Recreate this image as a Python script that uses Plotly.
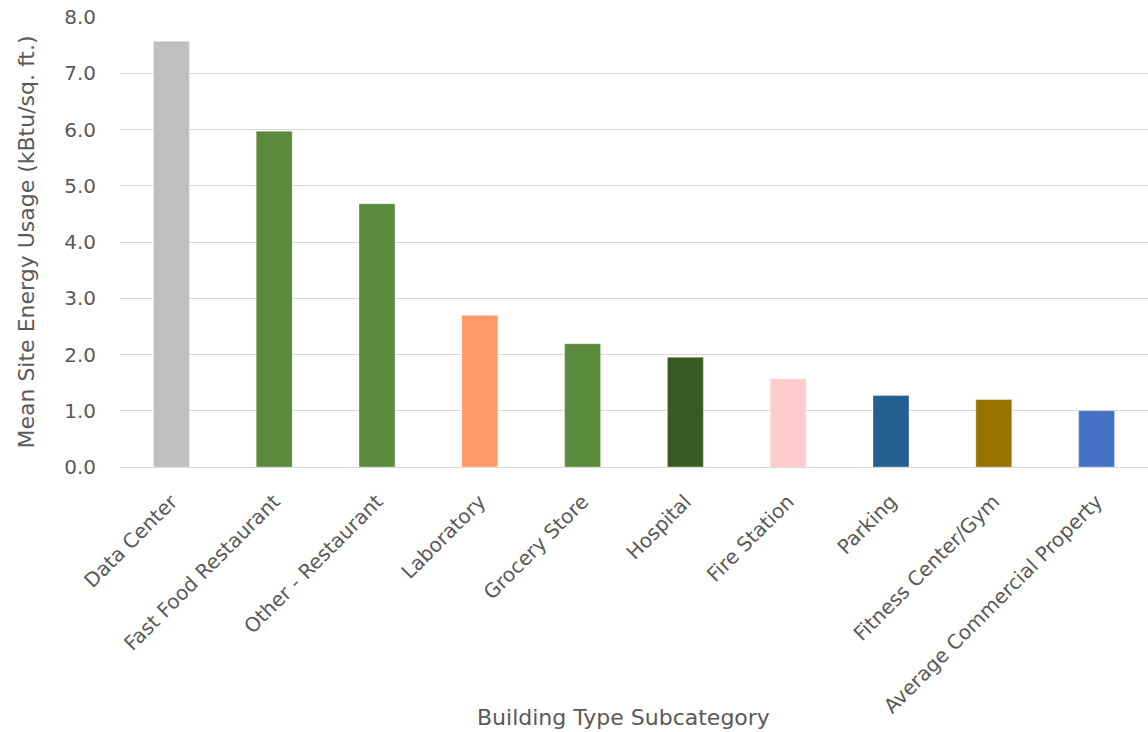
import plotly.graph_objects as go

categories = ["Data Center", "Fast Food Restaurant", "Other - Restaurant", "Laboratory",
              "Grocery Store", "Hospital", "Fire Station", "Parking",
              "Fitness Center/Gym", "Average Commercial Property"]
values = [7.57, 5.97, 4.68, 2.70, 2.19, 1.95, 1.57, 1.27, 1.20, 1.00]
colors = ["#BFBFBF", "#5B8A3C", "#5B8A3C", "#FF9966", "#5B8A3C", "#3A5A24",
          "#FFCCCC", "#255E91", "#997300", "#4472C4"]
y_ticks = [0, 1, 2, 3, 4, 5, 6, 7, 8]
y_ticklabels = ["0.0", "1.0", "2.0", "3.0", "4.0", "5.0", "6.0", "7.0", "8.0"]

font_family = "DejaVu Sans, Open Sans, sans-serif"
gray = "#595959"

fig = go.Figure(go.Bar(
    x=categories, y=values,
    marker=dict(color=colors, line=dict(color="rgba(255,255,255,0.35)", width=1)),
    hoverinfo="x+y",
))

fig.update_layout(
    width=1148, height=732,
    margin=dict(l=120, r=0, t=17, b=265),
    paper_bgcolor="white", plot_bgcolor="white",
    bargap=0.65,
    showlegend=False,
    font=dict(family=font_family, color=gray, size=18),
)
fig.update_yaxes(
    range=[0, 8], tickvals=y_ticks, ticktext=y_ticklabels,
    showgrid=True, gridcolor="#D9D9D9", gridwidth=1,
    zeroline=True, zerolinecolor="#D9D9D9", zerolinewidth=1,
    showline=False, ticks="", ticklabelstandoff=23,
    tickfont=dict(size=20, color=gray),
    title=dict(text="Mean Site Energy Usage (kBtu/sq. ft.)", font=dict(size=22, color=gray), standoff=23),
)
fig.update_xaxes(
    tickangle=-45, showgrid=False, showline=False, ticks="",
    ticklabelstandoff=18,
    tickfont=dict(size=20, color=gray),
)
fig.add_annotation(
    text="Building Type Subcategory", xref="paper", yref="paper",
    x=(623 - 120) / (1148 - 120), y=-(717 - 467) / 450, xanchor="center", yanchor="middle",
    showarrow=False, font=dict(size=22, color=gray, family=font_family),
)

fig.write_html("out.html")
